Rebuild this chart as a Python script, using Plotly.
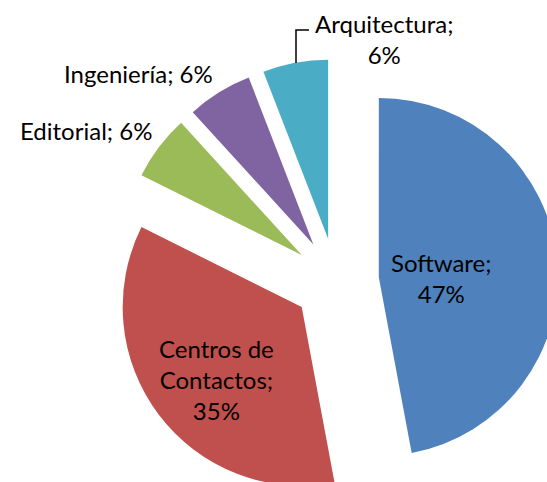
import plotly.graph_objects as go

# data
sectores = ["Software", "Centros de Contactos", "Editorial", "Ingeniería", "Arquitectura"]
empresas = [8, 6, 1, 1, 1]
colores = ["#4F81BD", "#C0504D", "#9BBB59", "#8064A2", "#4BACC6"]

total = sum(empresas)
porcentajes = [round(v / total * 100) for v in empresas]

# the figure is a bit bigger than the window so the pie gets cut at the
# right and bottom edges like the original
W, H = 560, 504


def px(x):
    return x / W


def py(y):
    return 1 - y / H


fig = go.Figure()
fig.add_trace(go.Pie(
    labels=sectores,
    values=empresas,
    sort=False,
    direction="clockwise",
    rotation=0,
    pull=0.24,
    marker=dict(colors=colores, line=dict(width=0)),
    textinfo="none",
    hoverinfo="label+percent",
    showlegend=False,
    domain=dict(x=[114 / W, 558 / W], y=[1 - 503 / H, 1 - 59 / H]),
))

# labels "Sector; NN%"
textos = [
    f"{sectores[0]};<br>{porcentajes[0]}%",
    sectores[1].replace(" Contactos", "<br>Contactos") + f";<br>{porcentajes[1]}%",
    f"{sectores[2]}; {porcentajes[2]}%",
    f"{sectores[3]}; {porcentajes[3]}%",
    f"{sectores[4]};<br>{porcentajes[4]}%",
]
posiciones = [(441, 278), (216, 379), (86, 130), (138, 73), (384, 39)]

for t, (x, y) in zip(textos, posiciones):
    fig.add_annotation(
        text=t, x=px(x), y=py(y), xref="paper", yref="paper",
        xanchor="center", yanchor="middle", showarrow=False,
        font=dict(family="Lato", size=24, color="black"),
    )

# leader line for Arquitectura
fig.add_shape(
    type="path", xref="paper", yref="paper",
    path=f"M {px(296)} {py(63)} L {px(296)} {py(30)} L {px(309)} {py(30)}",
    line=dict(color="black", width=1.5),
)

fig.update_layout(
    width=W,
    height=H,
    margin=dict(l=0, r=0, t=0, b=0),
    paper_bgcolor="white",
    plot_bgcolor="white",
)

fig.write_html(
    "out.html",
    config={"displayModeBar": False},
    post_script="document.body.style.margin='0';document.body.style.overflow='hidden';",
)
